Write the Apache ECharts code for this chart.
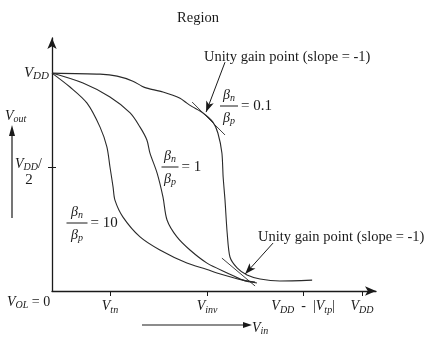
<!DOCTYPE html>
<html><head><meta charset="utf-8">
<script src="https://cdn.jsdelivr.net/npm/echarts@6/dist/echarts.min.js"></script>
<style>html,body{margin:0;padding:0;background:#fff}#c{width:430px;height:340px}</style>
</head><body><div id="c"></div>
<script>
// Units: Vin and Vout as fractions of VDD
const curveRatio01 = [[0,1.0],[0.155,0.995],[0.21,0.986],[0.261,0.963],[0.29,0.94],[0.306,0.931],[0.358,0.913],[0.413,0.885],[0.435,0.862],[0.452,0.846],[0.487,0.817],[0.519,0.775],[0.535,0.725],[0.548,0.633],[0.552,0.523],[0.558,0.417],[0.565,0.266],[0.574,0.156],[0.597,0.106],[0.629,0.073],[0.671,0.055],[0.735,0.046],[0.839,0.05]];
const curveRatio1 = [[0,1.0],[0.1,0.954],[0.187,0.89],[0.252,0.817],[0.284,0.752],[0.306,0.693],[0.316,0.633],[0.339,0.541],[0.358,0.431],[0.371,0.326],[0.403,0.248],[0.445,0.188],[0.5,0.128],[0.565,0.083],[0.616,0.05],[0.661,0.037]];
const curveRatio10 = [[0,1.0],[0.058,0.936],[0.113,0.862],[0.155,0.752],[0.177,0.661],[0.187,0.569],[0.197,0.477],[0.203,0.417],[0.229,0.339],[0.284,0.248],[0.348,0.188],[0.435,0.128],[0.5,0.099],[0.532,0.083],[0.616,0.05],[0.655,0.041]];
const tangentUpper = [[0.452,0.867],[0.558,0.716]];
const tangentLower = [[0.548,0.151],[0.655,0.023]];
const arrowUpper = [[0.558,1.05],[0.497,0.821]];
const arrowLower = [[0.713,0.22],[0.623,0.078]];
const xTickValues = [0.187, 0.5, 0.81, 1.0];
const xTickLabels = ['{v|V}{s|tn}', '{v|V}{s|inv}', '{v|V}{s|DD}{t|  -  |}{v|V}{s|tp}{t||}', '{v|V}{s|DD}'];
const yTickValues = [1.0, 0.569];
const yTickLabels = ['{v|V}{s|DD}', ''];

const SERIF = '"Liberation Serif", "DejaVu Serif", serif';
const INK = '#1a1a1a';
const rich = {
  v: {fontFamily: SERIF, fontStyle: 'italic', fontSize: 14, color: INK, lineHeight: 16},
  s: {fontFamily: SERIF, fontStyle: 'italic', fontSize: 10, color: INK, padding: [7,0,0,0]},
  t: {fontFamily: SERIF, fontSize: 14, color: INK, lineHeight: 16}
};
const richY = {
  v: {fontFamily: SERIF, fontStyle: 'italic', fontSize: 15, color: INK, lineHeight: 17},
  s: {fontFamily: SERIF, fontStyle: 'italic', fontSize: 11, color: INK, padding: [7,0,0,0]}
};

function txt(x, y, text, align, size) {
  return {type: 'text', x: x, y: y, silent: true,
    style: {text: text, rich: rich, fontFamily: SERIF, fontSize: size || 14.5, fill: INK,
      align: align || 'left', verticalAlign: 'middle'}};
}
function frac(cx, y, w, val) {
  return [
    {type: 'line', silent: true, shape: {x1: cx - w/2, y1: y, x2: cx + w/2, y2: y}, style: {stroke: INK, lineWidth: 1}},
    txt(cx, y - 11, '{v|β}{s|n}', 'center'),
    txt(cx, y + 12, '{v|β}{s|p}', 'center'),
    txt(cx + w/2 + 3, y, val, 'left', 15)
  ];
}

const chart = echarts.init(document.getElementById('c'), null, {renderer: 'canvas'});
const curveStyle = {color: '#2a2a2a', width: 1.1};
chart.setOption({
  animation: false,
  backgroundColor: '#fff',
  grid: {left: 52, right: 54, top: 38, bottom: 49},
  xAxis: {
    type: 'value', min: 0, max: 1.045, splitLine: {show: false},
    axisLine: {lineStyle: {color: INK, width: 1.3}, symbol: ['none', 'arrow'], symbolSize: [7, 11]},
    axisTick: {customValues: xTickValues, length: 5, lineStyle: {color: INK}},
    axisLabel: {customValues: xTickValues, margin: 7, rich: rich,
      formatter: function (v) { return xTickLabels[xTickValues.indexOf(v)]; }}
  },
  yAxis: [{
    type: 'value', min: 0, max: 1.161, splitLine: {show: false},
    axisLine: {show: true, lineStyle: {color: INK, width: 1.3}, symbol: ['none', 'arrow'], symbolSize: [7, 11]},
    axisTick: {show: true, customValues: [0.569], length: 4, lineStyle: {color: INK}},
    axisLabel: {customValues: yTickValues, margin: 3, rich: richY,
      formatter: function (v) { return yTickLabels[yTickValues.indexOf(v)]; }}
  }, {
    type: 'value', min: 0, max: 1.161, position: 'left', splitLine: {show: false},
    axisLine: {show: false},
    axisTick: {show: true, inside: true, customValues: [0.569], length: 4, lineStyle: {color: INK}},
    axisLabel: {show: false}
  }],
  series: [
    {type: 'line', data: curveRatio01, showSymbol: false, smooth: 0.25, lineStyle: curveStyle},
    {type: 'line', data: curveRatio1, showSymbol: false, smooth: 0.3, lineStyle: curveStyle},
    {type: 'line', data: curveRatio10, showSymbol: false, smooth: 0.3, lineStyle: curveStyle},
    {type: 'line', data: tangentUpper, showSymbol: false, lineStyle: {color: '#2a2a2a', width: 0.9}},
    {type: 'line', data: tangentLower, showSymbol: false, lineStyle: {color: '#2a2a2a', width: 0.9},
      markLine: {silent: true, symbol: ['none', 'arrow'], symbolSize: [6, 11], label: {show: false},
        lineStyle: {color: INK, width: 1, type: 'solid'},
        data: [[{coord: arrowUpper[0]}, {coord: arrowUpper[1]}], [{coord: arrowLower[0]}, {coord: arrowLower[1]}]]}}
  ],
  graphic: [].concat(
    [
      txt(198, 18, 'Region', 'center'),
      txt(204, 57, 'Unity gain point (slope = -1)'),
      txt(258, 237, 'Unity gain point (slope = -1)'),
      txt(5, 116, '{v|V}{s|out}'),
      txt(15, 164, '{v|V}{s|DD}{t|/}'),
      txt(29, 180, '2', 'center', 15),
      txt(7, 302, '{v|V}{s|OL}{t| = 0}'),
      txt(252, 328, '{v|V}{s|in}'),
      {type: 'line', silent: true, shape: {x1: 142, y1: 325, x2: 246, y2: 325}, style: {stroke: INK, lineWidth: 1.2}},
      {type: 'polygon', silent: true, shape: {points: [[243, 322], [252, 325], [243, 328]]}, style: {fill: INK}},
      {type: 'line', silent: true, shape: {x1: 12, y1: 218, x2: 12, y2: 133}, style: {stroke: INK, lineWidth: 1.2}},
      {type: 'polygon', silent: true, shape: {points: [[9, 136], [12, 125], [15, 136]]}, style: {fill: INK}}
    ],
    frac(229, 106, 18, '= 0.1'),
    frac(170, 167, 17, '= 1'),
    frac(77, 223, 21, '= 10')
  )
});
</script></body></html>
